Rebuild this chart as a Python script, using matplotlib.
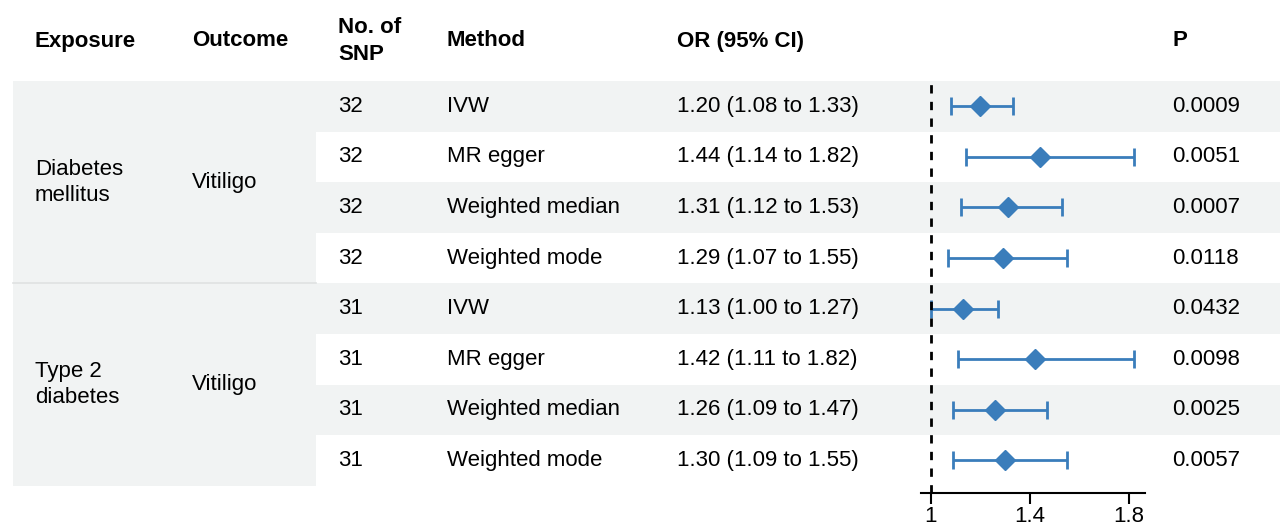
import matplotlib.pyplot as plt
import numpy as np

plt.rcParams['font.family'] = ['Liberation Sans', 'DejaVu Sans']

exposures = ["Diabetes\nmellitus", "Type 2\ndiabetes"]
outcomes = ["Vitiligo", "Vitiligo"]
n_snp = [32, 32, 32, 32, 31, 31, 31, 31]
methods = ["IVW", "MR egger", "Weighted median", "Weighted mode",
           "IVW", "MR egger", "Weighted median", "Weighted mode"]
odds = [1.20, 1.44, 1.31, 1.29, 1.13, 1.42, 1.26, 1.30]
lower = [1.08, 1.14, 1.12, 1.07, 1.00, 1.11, 1.09, 1.09]
upper = [1.33, 1.82, 1.53, 1.55, 1.27, 1.82, 1.47, 1.55]
pvals = ["0.0009", "0.0051", "0.0007", "0.0118",
         "0.0432", "0.0098", "0.0025", "0.0057"]
headers = ["Exposure", "Outcome", "No. of\nSNP", "Method", "OR (95% CI)", "P"]
xticks = [1, 1.4, 1.8]

W, H = 1280, 527
grey = '#f1f3f3'
blue = '#3a7dbb'
fs = 16

# layout in pixels
top, rowh = 81, 50.6
col_x = [35, 192, 338, 447, 677, 1172]
left_block = (13, 316)
n = len(methods)
per_group = n // len(exposures)

fig = plt.figure(figsize=(W / 100, H / 100), dpi=100)
bg = fig.add_axes([0, 0, 1, 1])
bg.set_xlim(0, W)
bg.set_ylim(H, 0)
bg.axis('off')

centers = top + (np.arange(n) + 0.5) * rowh

# stripes
for i in range(n):
    if i % 2 == 0:
        bg.fill_between([left_block[1], W], top + i * rowh, top + (i + 1) * rowh,
                        color=grey, lw=0)
for g in range(len(exposures)):
    y0 = top + g * per_group * rowh
    y1 = y0 + per_group * rowh
    bg.fill_between(left_block, y0, y1, color=grey, lw=0)
    yc = (y0 + y1) / 2
    bg.text(col_x[0], yc, exposures[g], fontsize=fs, va='center', ha='left',
            linespacing=1.3)
    bg.text(col_x[1], yc, outcomes[g], fontsize=fs, va='center', ha='left')
    if g > 0:
        bg.plot(left_block, [y0, y0], color='#dfe2e2', lw=1.2)

# header
for x, h in zip(col_x, headers):
    bg.text(x, 41, h, fontsize=fs, fontweight='bold', va='center', ha='left',
            linespacing=1.35)

# table rows
for i in range(n):
    y = centers[i]
    bg.text(col_x[2], y, str(n_snp[i]), fontsize=fs, va='center')
    bg.text(col_x[3], y, methods[i], fontsize=fs, va='center')
    bg.text(col_x[4], y, f"{odds[i]:.2f} ({lower[i]:.2f} to {upper[i]:.2f})",
            fontsize=fs, va='center')
    bg.text(col_x[5], y, pvals[i], fontsize=fs, va='center')

# forest plot
ax_l, ax_r, ax_b = 921, 1145, 493
ax = fig.add_axes([ax_l / W, 1 - ax_b / H, (ax_r - ax_l) / W, (ax_b - top) / H])
ax.patch.set_alpha(0)
ax.set_ylim(ax_b, top)
ax.set_xlim(0.96, 1.865)
odds_a, lo_a, up_a = np.array(odds), np.array(lower), np.array(upper)
ax.errorbar(odds_a, centers, xerr=[odds_a - lo_a, up_a - odds_a], fmt='D',
            color=blue, ms=10, ecolor=blue, elinewidth=2, capsize=6.5, capthick=2)
ax.axvline(1, color='black', ls=(0, (3, 3)), lw=2)
for s in ['top', 'right', 'left']:
    ax.spines[s].set_visible(False)
ax.spines['bottom'].set_linewidth(1.5)
ax.set_yticks([])
ax.set_xticks(xticks)
ax.set_xticklabels([f"{t:g}" for t in xticks])
ax.tick_params(axis='x', length=8, width=1.5, labelsize=fs, pad=1.5)

fig.savefig('out.png', dpi=100)
